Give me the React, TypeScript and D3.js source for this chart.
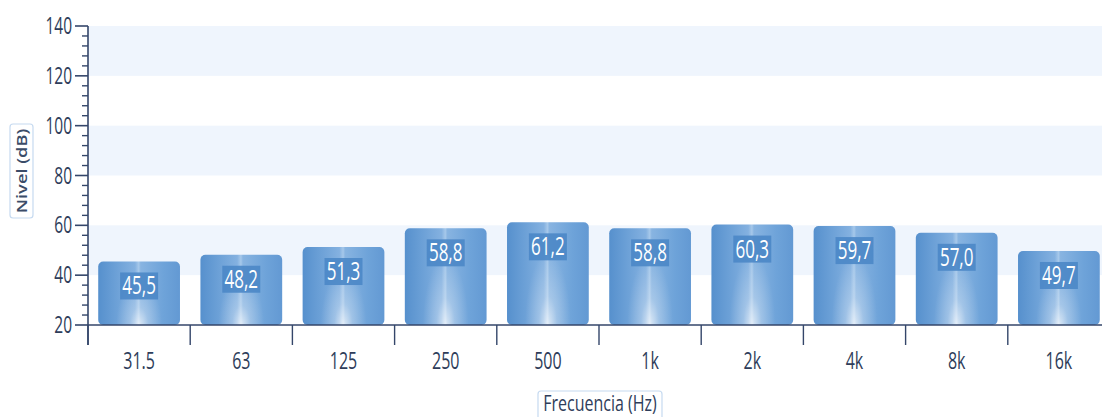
import React from "react";
import * as d3 from "d3";

// Octave-band levels
const categories: string[] = ["31.5", "63", "125", "250", "500", "1k", "2k", "4k", "8k", "16k"];
const levels: number[] = [45.5, 48.2, 51.3, 58.8, 61.2, 58.8, 60.3, 59.7, 57.0, 49.7];
const yTicks: number[] = [20, 40, 60, 80, 100, 120, 140];
const xTitle = "Frecuencia (Hz)";
const yTitle = "Nivel (dB)";

const W = 1102;
const H = 417;
const left = 88;
const right = 1110;
const top = 26;
const bottom = 325;

const AXIS = "#34466a";
const TEXT = "#2e3d5a";
const BAND = "#eff5fd";
const FONT = "'Open Sans', 'Noto Sans', sans-serif";
const SY = 1.48; // vertical stretch of the glyphs

const fmt = (v: number) => d3.format(".1f")(v).replace(".", ",");

export default function App() {
  const x = d3.scaleBand<string>().domain(categories).range([left, right]).paddingInner(0.2).paddingOuter(0.1);
  const step = x.step();
  const y = d3.scaleLinear().domain([20, 140]).range([bottom, top]);
  const minorTicks = d3.range(20, 140.01, 4).filter((t) => t % 20 !== 0);
  const bands = d3.range(20, 140, 20).filter((_, i) => i % 2 === 1);

  return (
    <svg width={W} height={H} style={{ position: "absolute", left: 0, top: 0, background: "#fff" }}>
      <defs>
        <linearGradient id="barH" x1="0" x2="1" y1="0" y2="0">
          <stop offset="0%" stopColor="#5690cd" />
          <stop offset="20%" stopColor="#6a9fd6" />
          <stop offset="45%" stopColor="#84b1e0" />
          <stop offset="49.5%" stopColor="#a6c8ea" />
          <stop offset="52%" stopColor="#88b4e1" />
          <stop offset="80%" stopColor="#6ea3d9" />
          <stop offset="100%" stopColor="#6399d3" />
        </linearGradient>
        <radialGradient id="barGlow" cx="0.5" cy="1" r="0.7" gradientTransform="translate(0.5,1) scale(0.4,1) translate(-0.5,-1)">
          <stop offset="0%" stopColor="#ffffff" stopOpacity="0.7" />
          <stop offset="40%" stopColor="#ffffff" stopOpacity="0.25" />
          <stop offset="100%" stopColor="#ffffff" stopOpacity="0" />
        </radialGradient>
        <clipPath id="plotClip">
          <rect x={0} y={0} width={W} height={H} />
        </clipPath>
      </defs>

      {/* alternating horizontal bands */}
      {bands.map((b) => (
        <rect key={b} x={left} y={y(b + 20)} width={W - left} height={y(b) - y(b + 20)} fill={BAND} />
      ))}

      {/* bars */}
      <g clipPath="url(#plotClip)">
        {categories.map((c, i) => {
          const bx = x(c)!;
          const by = y(levels[i]);
          const bw = x.bandwidth();
          const bh = bottom - by;
          return (
            <g key={c}>
              <rect x={bx} y={by} width={bw} height={bh} rx={5} fill="url(#barH)" />
              <rect x={bx} y={by} width={bw} height={bh} rx={5} fill="url(#barGlow)" />
            </g>
          );
        })}
      </g>

      {/* value labels */}
      {categories.map((c, i) => {
        const cx = x(c)! + x.bandwidth() / 2;
        const by = y(levels[i]);
        return (
          <g key={c}>
            <rect x={cx - 19} y={by + 11} width={38} height={27} fill="#4b87c7" opacity={0.9} />
            <g transform={`translate(${cx},${by + 33}) scale(1,${SY})`}>
              <text textAnchor="middle" fontFamily={FONT} fontSize={17} fill="#ffffff">
                {fmt(levels[i])}
              </text>
            </g>
          </g>
        );
      })}

      {/* y axis */}
      <line x1={left} x2={left} y1={top} y2={bottom + 20} stroke={AXIS} strokeWidth={1.6} />
      {yTicks.map((t) => (
        <g key={t}>
          <line x1={left - 13} x2={left} y1={y(t)} y2={y(t)} stroke={AXIS} strokeWidth={1.6} />
          <g transform={`translate(${left - 16},${y(t) + 8}) scale(1,${SY})`}>
            <text textAnchor="end" fontFamily={FONT} fontSize={15.5} fill={TEXT}>
              {t}
            </text>
          </g>
        </g>
      ))}
      {minorTicks.map((t) => (
        <line key={t} x1={left - 6} x2={left} y1={y(t)} y2={y(t)} stroke={AXIS} strokeWidth={1.4} />
      ))}

      {/* x axis */}
      <line x1={left} x2={W} y1={bottom} y2={bottom} stroke={AXIS} strokeWidth={1.6} />
      {categories.map((c, i) => (
        <line key={c} x1={left + step * i} x2={left + step * i} y1={bottom} y2={bottom + 20} stroke={AXIS} strokeWidth={1.4} />
      ))}
      {categories.map((c) => (
        <g key={c} transform={`translate(${x(c)! + x.bandwidth() / 2},${369}) scale(1,${SY})`}>
          <text textAnchor="middle" fontFamily={FONT} fontSize={16} fill={TEXT}>
            {c}
          </text>
        </g>
      ))}

      {/* axis titles */}
      <rect x={538} y={391} width={124} height={40} rx={3} fill="#fff" stroke="#c6daf0" strokeWidth={1.2} />
      <g transform={`translate(600,411) scale(1,1.35)`}>
        <text textAnchor="middle" fontFamily={FONT} fontSize={16} fill={TEXT}>
          {xTitle}
        </text>
      </g>

      <rect x={10} y={124} width={23} height={94} rx={3} fill="#fff" stroke="#c6daf0" strokeWidth={1.2} />
      <g transform={`translate(27,171) rotate(-90) scale(1.22,1)`}>
        <text textAnchor="middle" fontFamily={FONT} fontSize={15} fontWeight={600} fill="#3b4c68">
          {yTitle}
        </text>
      </g>
    </svg>
  );
}
